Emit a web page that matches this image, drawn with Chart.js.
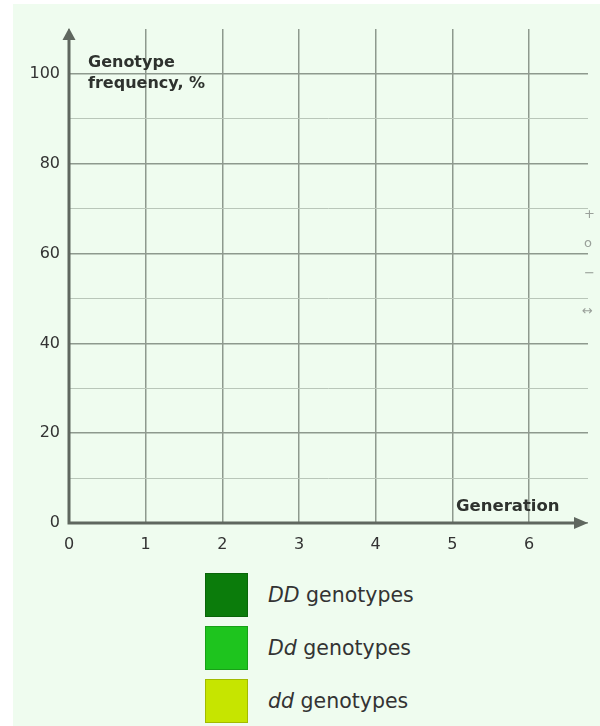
<!DOCTYPE html>
<html>
<head>
<meta charset="utf-8">
<script src="https://cdn.jsdelivr.net/npm/chart.js"></script>
<style>
  body { margin: 0; background: #fff; width: 600px; height: 726px; overflow: hidden; font-family: "DejaVu Sans", sans-serif; }
  #panel { position: absolute; left: 13px; top: 4px; width: 587px; height: 722px; background: #effcef; }
  #chart { position: absolute; left: 0; top: 0; }
  #legend { position: absolute; left: 205px; top: 573px; }
  .item { display: flex; align-items: center; height: 44px; margin-bottom: 9px; }
  .swatch { width: 41px; height: 42px; border: 1px solid rgba(0,0,0,0.18); margin-right: 20px; }
  .label { font-size: 20.5px; color: #333; }
  .tool { position: absolute; left: 584px; font-size: 13px; color: #9aa09a; }
</style>
</head>
<body>
<div id="panel"></div>
<canvas id="chart" width="600" height="565"></canvas>
<div id="legend"></div>
<div class="tool" style="top:206px">+</div>
<div class="tool" style="top:235px">o</div>
<div class="tool" style="top:265px">&minus;</div>
<div class="tool" style="top:303px;left:582px">&#8596;</div>
<script>
// generations and frequency ticks
const generations = [0, 1, 2, 3, 4, 5, 6];
const yGridValues = [0, 10, 20, 30, 40, 50, 60, 70, 80, 90, 100];
const yLabels = [0, 20, 40, 60, 80, 100];

// genotype series (chart is blank, nothing plotted yet)
const seriesNames = ['DD', 'Dd', 'dd'];
const seriesColors = ['#0b7c0b', '#1ec41e', '#c6e500'];
const ddUpper = [];
const dDmixed = [];
const ddLower = [];
const seriesValues = [ddUpper, dDmixed, ddLower];

const axisColor = '#5f675f';
const majorGrid = '#8e998e';
const minorGrid = '#b9c6b9';

// axes with arrowheads and axis titles
const axesPlugin = {
    id: 'axesArrows',
    afterDraw(chart) {
        const ctx = chart.ctx;
        const x = chart.scales.x, y = chart.scales.y;
        const x0 = x.getPixelForValue(0);
        const y0 = y.getPixelForValue(0);
        const top = chart.chartArea.top;
        const right = chart.chartArea.right;
        ctx.save();
        ctx.strokeStyle = axisColor;
        ctx.fillStyle = axisColor;
        ctx.lineWidth = 3;
        ctx.beginPath();
        ctx.moveTo(x0, y0 + 1.5);
        ctx.lineTo(x0, top + 10);
        ctx.moveTo(x0 - 1.5, y0);
        ctx.lineTo(right - 14, y0);
        ctx.stroke();
        ctx.beginPath();
        ctx.moveTo(x0, top - 1);
        ctx.lineTo(x0 - 6.5, top + 11);
        ctx.lineTo(x0 + 6.5, top + 11);
        ctx.closePath();
        ctx.fill();
        ctx.beginPath();
        ctx.moveTo(right, y0);
        ctx.lineTo(right - 14, y0 - 6);
        ctx.lineTo(right - 14, y0 + 6);
        ctx.closePath();
        ctx.fill();

        ctx.fillStyle = '#2e322e';
        ctx.font = 'bold 16px "DejaVu Sans"';
        ctx.textAlign = 'left';
        ctx.textBaseline = 'alphabetic';
        ctx.fillText('Genotype', x0 + 19, 67);
        ctx.fillText('frequency, %', x0 + 19, 88);
        ctx.font = 'bold 16.5px "DejaVu Sans"';
        ctx.fillText('Generation', 456, 511);
        ctx.restore();
    }
};

const datasets = seriesNames.map((name, i) => ({
    label: name + ' genotypes',
    data: seriesValues[i],
    backgroundColor: seriesColors[i],
    borderColor: seriesColors[i]
}));

const chart = new Chart(document.getElementById('chart'), {
    type: 'line',
    data: { datasets: datasets },
    options: {
        responsive: false,
        animation: false,
        layout: { padding: { top: 29, right: 12, left: 0, bottom: 0 } },
        plugins: { legend: { display: false }, tooltip: { enabled: false } },
        scales: {
            x: {
                type: 'linear',
                min: 0,
                max: 6.77,
                offset: false,
                afterBuildTicks: (scale) => { scale.ticks = generations.map(v => ({ value: v })); },
                afterFit: (scale) => { scale.height = 42; },
                border: { display: false },
                grid: { color: majorGrid, lineWidth: 1.5, drawTicks: false, offset: false },
                ticks: { color: '#333', font: { family: 'DejaVu Sans', size: 16 }, padding: 12 }
            },
            y: {
                type: 'linear',
                min: 0,
                max: 110,
                afterBuildTicks: (scale) => { scale.ticks = yGridValues.map(v => ({ value: v })); },
                afterFit: (scale) => { scale.width = 69; },
                border: { display: false },
                grid: {
                    color: (c) => (c.tick && yLabels.includes(c.tick.value)) ? majorGrid : minorGrid,
                    lineWidth: (c) => (c.tick && yLabels.includes(c.tick.value)) ? 1.5 : 1,
                    drawTicks: false
                },
                ticks: {
                    color: '#333',
                    font: { family: 'DejaVu Sans', size: 16 },
                    padding: 9,
                    callback: (v) => yLabels.includes(v) ? String(v) : ''
                }
            }
        }
    },
    plugins: [axesPlugin]
});

// html legend built from the datasets (labels have italic genotype letters)
const legend = document.getElementById('legend');
chart.data.datasets.forEach((ds, i) => {
    const item = document.createElement('div');
    item.className = 'item';
    item.innerHTML = '<div class="swatch" style="background:' + ds.backgroundColor + '"></div>' +
        '<span class="label"><i>' + seriesNames[i] + '</i> genotypes</span>';
    legend.appendChild(item);
});
</script>
</body>
</html>
